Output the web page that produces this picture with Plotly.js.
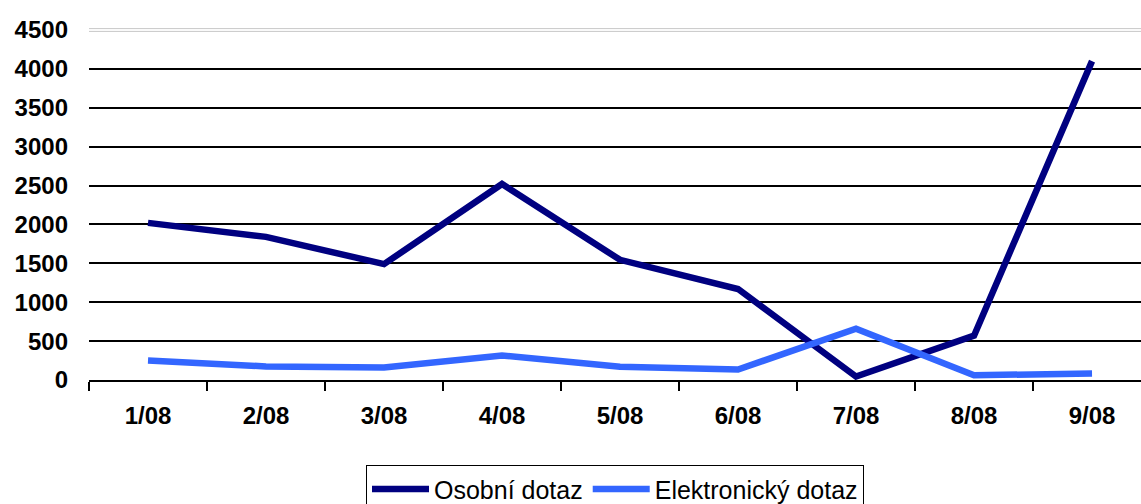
<!DOCTYPE html>
<html>
<head>
<meta charset="utf-8">
<script src="https://cdn.plot.ly/plotly-3.0.1.min.js"></script>
<style>html,body{margin:0;padding:0;background:#fff;}#chart{width:1141px;height:504px;}</style>
</head>
<body>
<div id="chart"></div>
<script>
const categories = ["1/08","2/08","3/08","4/08","5/08","6/08","7/08","8/08","9/08"];
const osobni = [2020, 1840, 1490, 2520, 1545, 1170, 45, 570, 4100];
const elektronicky = [250, 175, 160, 315, 170, 135, 660, 60, 85];
const seriesNames = ["Osobní dotaz", "Elektronický dotaz"];
const yTicks = [0,500,1000,1500,2000,2500,3000,3500,4000,4500];

const traces = [
  {x: categories, y: osobni, name: seriesNames[0], type: "scatter", mode: "lines",
   line: {color: "#000080", width: 6.5}},
  {x: categories, y: elektronicky, name: seriesNames[1], type: "scatter", mode: "lines",
   line: {color: "#3366FF", width: 6.5}}
];

const layout = {
  width: 1141, height: 504,
  margin: {l: 89, r: 0, t: 30, b: 124, autoexpand: false},
  paper_bgcolor: "#fff", plot_bgcolor: "#fff",
  font: {family: "Arial, 'Liberation Sans', sans-serif", color: "#000"},
  showlegend: true,
  legend: {orientation: "h", x: 0.5, xanchor: "center", yref: "container", y: 0.077, yanchor: "top",
           bordercolor: "#000", borderwidth: 1, font: {size: 25, family: "Arial, 'Liberation Sans', sans-serif"},
           itemwidth: 57, tracegroupgap: 0},
  xaxis: {type: "category", range: [-0.5, 8.415], tickson: "boundaries",
          ticks: "outside", ticklen: 9, tickwidth: 2, tickcolor: "#000",
          showline: true, linecolor: "#000", linewidth: 2, showgrid: false, zeroline: false,
          tickfont: {size: 24, family: "Arial, 'Liberation Sans', sans-serif", weight: "bold"},
          ticklabelstandoff: 13, fixedrange: true},
  yaxis: {range: [0, 4500], tickvals: yTicks, ticktext: yTicks.map(String),
          showgrid: true, gridcolor: "#000", gridwidth: 2, zeroline: false, showline: false,
          ticks: "", tickfont: {size: 24, family: "Arial, 'Liberation Sans', sans-serif", weight: "bold"},
          ticklabelstandoff: 20, fixedrange: true},
  shapes: [
    {type: "line", xref: "paper", yref: "y", x0: 0, x1: 1, y0: 4500, y1: 4500,
     line: {color: "#fff", width: 4}, layer: "above"},
    {type: "line", xref: "paper", yref: "paper", x0: 0, x1: 1, y0: 1.004, y1: 1.004,
     line: {color: "#c8c8c8", width: 1}, layer: "above"},
    {type: "line", xref: "paper", yref: "paper", x0: 0, x1: 1, y0: 0.996, y1: 0.996,
     line: {color: "#c8c8c8", width: 1}, layer: "above"}
  ]
};

Plotly.newPlot("chart", traces, layout, {displayModeBar: false, staticPlot: true});
</script>
</body>
</html>
